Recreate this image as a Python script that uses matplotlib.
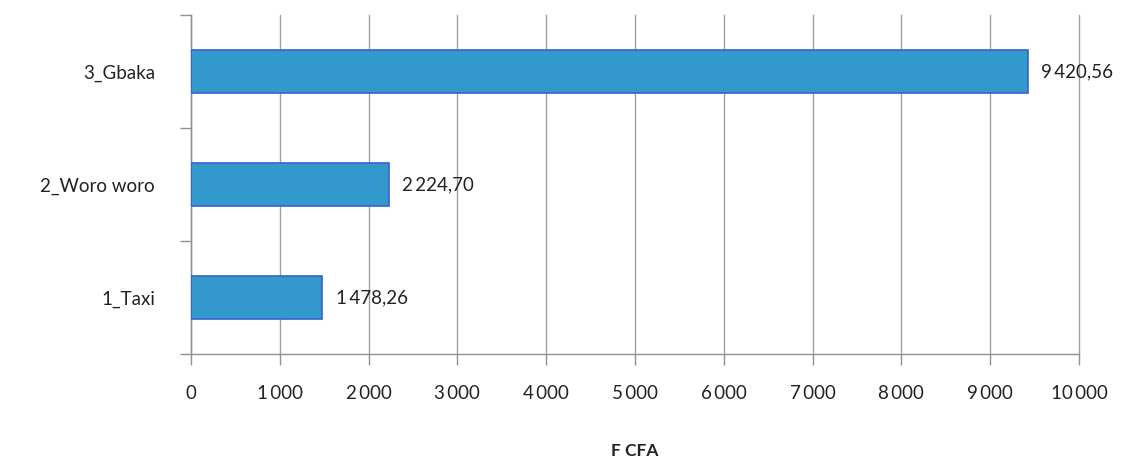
import matplotlib
matplotlib.use("Agg")
import matplotlib.pyplot as plt
from matplotlib.ticker import FuncFormatter, FixedLocator

# Coût moyen par mode de transport (F CFA)
categories = ["1_Taxi", "2_Woro woro", "3_Gbaka"]
values = [1478.26, 2224.70, 9420.56]
value_labels = ["1\u2009478,26", "2\u2009224,70", "9\u2009420,56"]
x_ticks = [0, 1000, 2000, 3000, 4000, 5000, 6000, 7000, 8000, 9000, 10000]

plt.rcParams["font.family"] = ["Lato", "DejaVu Sans"]

fig = plt.figure(figsize=(11.46, 4.57), dpi=100)
ax = fig.add_axes([0.1667, 0.2254, 0.9415 - 0.1667, 0.9672 - 0.2254])

ypos = list(range(len(categories)))
ax.barh(ypos, values, height=0.38, color="#3399cc", edgecolor="#3a62c8",
        linewidth=1.2, zorder=3)

for y, v, lab in zip(ypos, values, value_labels):
    ax.annotate(lab, xy=(v, y), xytext=(10, 0), textcoords="offset points",
                ha="left", va="center", fontsize=13.5, color="#222222")

ax.set_xlim(0, 10000)
ax.set_ylim(-0.5, len(categories) - 0.5)

ax.xaxis.set_major_locator(FixedLocator(x_ticks))
ax.xaxis.set_major_formatter(FuncFormatter(
    lambda v, p: f"{int(v):,}".replace(",", "\u2009")))
ax.grid(axis="x", color="#a0a0a0", linewidth=1.0, zorder=0)
for gl in ax.xaxis.get_gridlines():
    gl.set_clip_on(False)

ax.set_yticks(ypos)
ax.set_yticklabels(categories)
ax.set_yticks([i - 0.5 for i in range(len(categories) + 1)], minor=True)
ax.tick_params(axis="y", which="major", length=0, pad=26, labelsize=13.5,
               labelcolor="#222222")
ax.tick_params(axis="y", which="minor", length=8, color="#909090", width=1)
ax.tick_params(axis="x", which="major", length=8, color="#909090", width=1,
               pad=14, labelsize=13.5, labelcolor="#222222")

for side in ["top", "right"]:
    ax.spines[side].set_visible(False)
for side in ["left", "bottom"]:
    ax.spines[side].set_color("#909090")
    ax.spines[side].set_linewidth(1.0)

ax.set_xlabel("F CFA", fontsize=12.5, fontweight="bold", labelpad=30,
              color="#222222")

fig.savefig("out.png", dpi=100)
